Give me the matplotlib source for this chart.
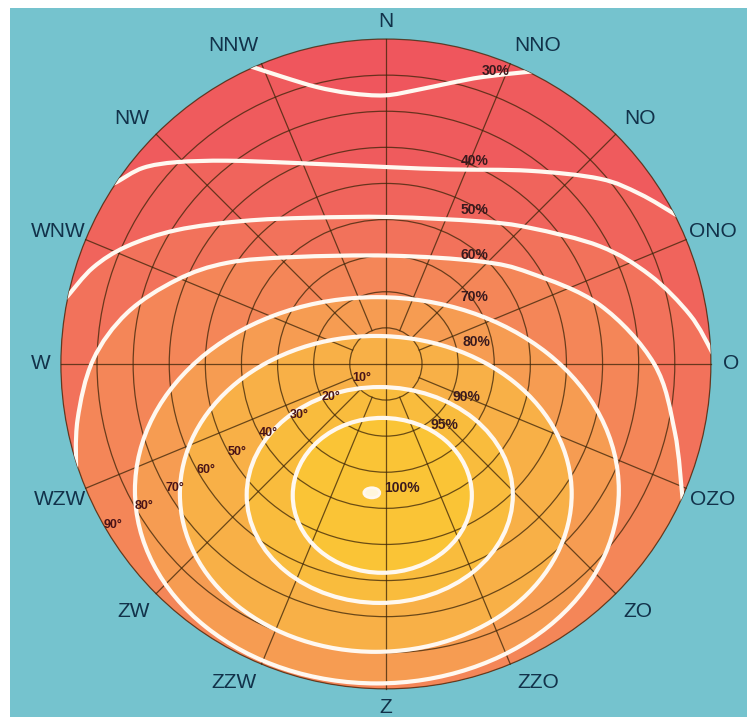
import numpy as np
import matplotlib
matplotlib.use("Agg")
import matplotlib.pyplot as plt
from matplotlib.path import Path
from matplotlib.patches import Circle, PathPatch, Ellipse
from matplotlib import font_manager

# compass directions (Dutch), clockwise from north
directions = ["N", "NNO", "NO", "ONO", "O", "OZO", "ZO", "ZZO",
              "Z", "ZZW", "ZW", "WZW", "W", "WNW", "NW", "NNW"]
label_az = [0, 25.5, 46, 68, 90, 112.5, 134.5, 154.5,
            180, 205.5, 225.5, 247.5, 270, 292, 314, 334.5]
label_r = [94.8, 97.8, 97.8, 97.8, 95.6, 97.8, 97.8, 97.8,
           95.3, 97.8, 97.8, 97.8, 95.6, 97.8, 97.8, 97.8]

# tilt angles (rings)
tilts = [10, 20, 30, 40, 50, 60, 70, 80, 90]

# open contour lines of relative yield, x = east, y = north, tilt-degree units
c30 = [(-39.0, 82.8), (-36.8, 82.2), (-28.5, 79.5), (-19.1, 76.7), (-10.0, 75.0),
       (-0.3, 74.4), (8.6, 75.9), (17.7, 77.8), (26.9, 79.5), (39.3, 80.9), (41.0, 81.0)]
c40 = [(-75.9, 49.8), (-74.5, 50.4), (-67.3, 54.3), (-57.9, 55.9), (-44.0, 56.3),
       (-25.8, 55.7), (1.1, 54.5), (17.7, 53.9), (39.9, 53.5), (59.3, 51.3),
       (70.3, 47.1), (80.0, 41.5), (81.5, 40.5)]
c50 = [(-89.2, 17.7), (-88.3, 18.6), (-81.1, 26.7), (-71.7, 32.6), (-57.9, 37.1),
       (-39.6, 39.6), (-21.0, 40.5), (1.1, 40.7), (26.0, 39.5), (39.9, 37.7),
       (59.3, 32.6), (73.1, 24.6), (84.2, 13.6), (90.3, 3.3), (91.0, 1.0)]
c60 = [(-85.8, -30.7), (-85.4, -15.5), (-81.1, 1.1), (-71.7, 14.1), (-57.9, 23.3),
       (-44.0, 28.0), (-25.8, 29.6), (1.1, 30.0), (26.0, 28.4), (39.9, 25.2),
       (59.3, 16.3), (74.3, 0.0), (80.0, -18.8), (82.2, -37.7), (82.6, -40.0)]
open_lines = [c30, c40, c50, c60]

# closed contours (ellipses): centre, width, height in tilt-degree units
ell_x = [-2.5, -2.8, -1.7, -1.0]
ell_y = [-35.0, -36.0, -36.3, -36.4]
ell_w = [134.0, 108.5, 73.7, 49.6]
ell_h = [107.0, 87.5, 59.8, 42.9]
optimum = (-3.9, -35.7)

levels = ["30%", "40%", "50%", "60%", "70%", "80%", "90%", "95%", "100%"]
level_text_xy = [(30.5, 81.1), (24.6, 56.2), (24.6, 42.6), (24.6, 30.2), (24.6, 18.6),
                 (25.2, 6.1), (22.4, -9.1), (16.3, -16.9), (4.4, -34.3)]
band_colors = ["#EF565D", "#EF5B5D", "#F0645C", "#F2725B", "#F48658",
               "#F69C52", "#F8B047", "#F9BC3D", "#FAC436"]
WHITE = "#FFF8F0"


def smooth(pts):
    # catmull-rom points -> cubic bezier path
    p = np.asarray(pts, float)
    ext = np.vstack([p[0], p, p[-1]])
    verts = [ext[1]]
    codes = [Path.MOVETO]
    for i in range(1, len(ext) - 2):
        p0, p1, p2, p3 = ext[i - 1], ext[i], ext[i + 1], ext[i + 2]
        verts += [p1 + (p2 - p0) / 6, p2 - (p3 - p1) / 6, p2]
        codes += [Path.CURVE4] * 3
    return verts, codes


installed = {f.name for f in font_manager.fontManager.ttflist}
small_fam = ["Liberation Sans Narrow"] if "Liberation Sans Narrow" in installed else []
small_fam += ["Liberation Sans", "DejaVu Sans"]
fam = ["Liberation Sans", "DejaVu Sans"]

fig = plt.figure(figsize=(7.47, 7.17), dpi=100, facecolor="white")
ax = fig.add_axes([10 / 747, 0, 737 / 747, 709 / 717])
ax.set_xlim(-104.1, 100.0)
ax.set_ylim(-97.8, 98.6)
ax.axis("off")
ax.add_patch(plt.Rectangle((-104.1, -97.8), 204.1, 196.4, color="#75C3CE", zorder=0))

ax.add_patch(Circle((0, 0), 90, facecolor=band_colors[0], edgecolor="none", zorder=1))
clip = Circle((0, 0), 90, transform=ax.transData)

# filled bands, open ones first
for k, pts in enumerate(open_lines):
    verts, codes = smooth(pts)
    x0, y0 = pts[0]
    x1, y1 = pts[-1]
    verts = verts + [(x1 + 60, y1), (x1 + 60, -150), (x0 - 60, -150),
                     (x0 - 60, y0), (x0, y0)]
    codes = codes + [Path.LINETO] * 4 + [Path.CLOSEPOLY]
    band = PathPatch(Path(verts, codes), facecolor=band_colors[k + 1],
                     edgecolor="none", zorder=1.5)
    ax.add_patch(band)
    band.set_clip_path(clip)
for k in range(len(ell_x)):
    band = Ellipse((ell_x[k], ell_y[k]), ell_w[k], ell_h[k],
                   facecolor=band_colors[k + 5], edgecolor="none", zorder=1.5)
    ax.add_patch(band)
    band.set_clip_path(clip)

# grid: tilt rings and azimuth spokes
grid_kw = dict(color="#3B2408", lw=0.9, alpha=0.75, zorder=2)
for t in tilts:
    ax.add_patch(Circle((0, 0), t, fill=False, ec="#3B2408", lw=0.9, alpha=0.75, zorder=2))
for k in range(16):
    a = np.radians(k * 22.5)
    r0 = 0 if k % 4 == 0 else tilts[0]
    ax.plot([r0 * np.sin(a), 90 * np.sin(a)], [r0 * np.cos(a), 90 * np.cos(a)], **grid_kw)

# white contour lines
for pts in open_lines:
    verts, codes = smooth(pts)
    line = PathPatch(Path(verts, codes), fill=False, edgecolor=WHITE,
                     lw=3.0, zorder=3, capstyle="round")
    ax.add_patch(line)
    line.set_clip_path(clip)
for k in range(len(ell_x)):
    line = Ellipse((ell_x[k], ell_y[k]), ell_w[k], ell_h[k], fill=False,
                   edgecolor=WHITE, lw=3.0, zorder=3)
    ax.add_patch(line)
    line.set_clip_path(clip)
ax.add_patch(Ellipse(optimum, 4.4, 2.8, facecolor="#FFF6DC", edgecolor=WHITE,
                     lw=2, zorder=3))

# texts
for name, az, r in zip(directions, label_az, label_r):
    a = np.radians(az)
    ax.text(r * np.sin(a), r * np.cos(a), name, ha="center", va="center",
            fontsize=15, color="#12324A", family=fam, zorder=4)

for txt, (x, y) in zip(levels, level_text_xy):
    ax.text(x, y, txt, ha="center", va="center", fontsize=10, fontweight="bold",
            color="#3A1A1E", family=small_fam, zorder=4)

a = np.radians(239.5)
for t in tilts:
    r = t - 2.2
    ax.text(r * np.sin(a), r * np.cos(a), f"{t}°", ha="center", va="center",
            fontsize=9, fontweight="bold", color="#4A1418", family=small_fam, zorder=4)

fig.savefig("out.png", dpi=100, facecolor="white")
